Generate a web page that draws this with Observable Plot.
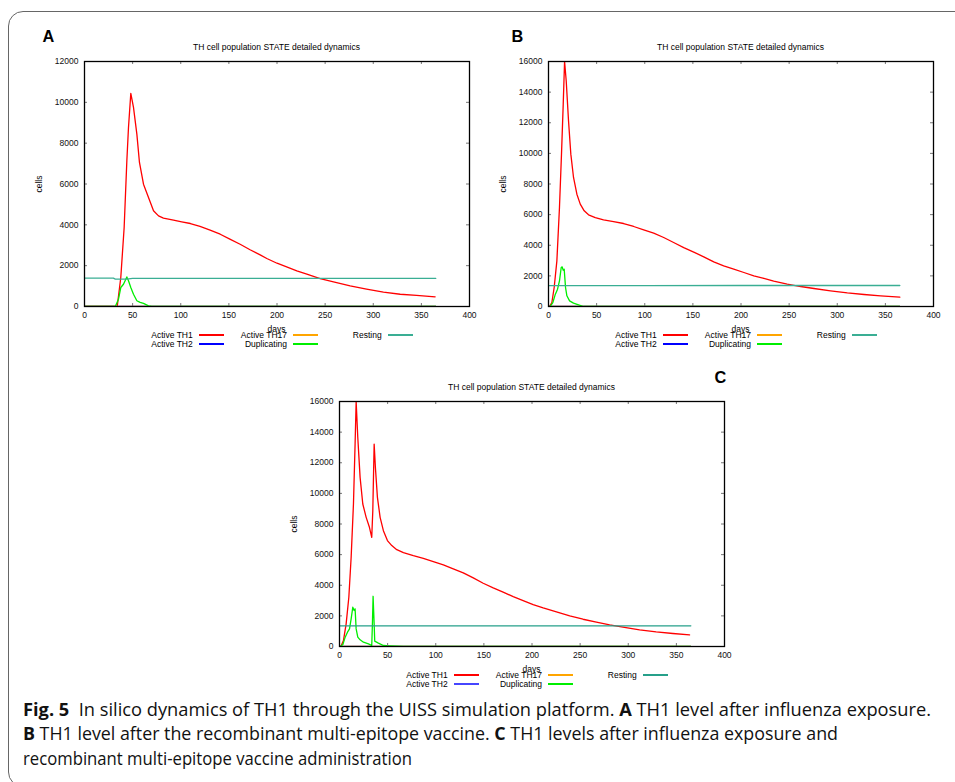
<!DOCTYPE html>
<html><head><meta charset="utf-8">
<script src="https://cdn.jsdelivr.net/npm/d3@7"></script>
<script src="https://cdn.jsdelivr.net/npm/@observablehq/plot@0.6"></script>
<style>
body{margin:0;background:#fff;}
#fig{position:relative;width:955px;height:782px;overflow:hidden;background:#fff;font-family:"Liberation Sans",Arial,sans-serif;color:#000}
.abs{position:absolute;white-space:nowrap;line-height:1}
.t8{font-size:8.5px}
.lg{position:absolute;height:2px}
#border{position:absolute;left:8px;top:11px;width:1000px;height:776px;border:1px solid #666;border-radius:15px;box-sizing:border-box}
.cap{position:absolute;left:23px;white-space:nowrap;line-height:1;font-family:"Open Sans","Noto Sans",sans-serif;font-size:17.5px;color:#111;transform-origin:0 0}
</style></head><body><div id="fig"><div id="border"></div></div><script>
// ---------- data ----------
const xTicks = [0, 50, 100, 150, 200, 250, 300, 350, 400];
const yTicksA = [0, 2000, 4000, 6000, 8000, 10000, 12000];
const yTicksBC = [0, 2000, 4000, 6000, 8000, 10000, 12000, 14000, 16000];
const seriesNames = ["Active TH1", "Active TH2", "Active TH17", "Duplicating", "Resting"];
const seriesColors = ["#ff0000", "#0000ff", "#ffa500", "#00ee00", "#3aae94"];
const titleText = "TH cell population STATE detailed dynamics";
const xLabel = "days", yLabel = "cells";

// Panel A (influenza exposure)
const A_TH1 = [[0,0],[34,0],[37.7,1420],[41.2,3870],[44,7140],[45.7,8770],[48.1,10435],[50.9,9750],[54.4,8440],[57.1,7055],[61.3,5990],[66.5,5340],[71.7,4690],[76.9,4440],[82,4330],[92.5,4230],[101,4150],[110,4065],[120,3920],[130.5,3740],[141,3540],[151,3300],[161.7,3050],[172,2780],[182.5,2530],[189.4,2350],[200,2120],[210,1945],[220.6,1750],[231,1585],[244.8,1370],[258.7,1210],[276,1010],[293,850],[310.6,700],[328,600],[345,540],[364.3,475]];
const A_TH2 = [[0,0],[365,0]];
const A_TH17 = [[0,0],[365,0]];
const A_Dup = [[0,0],[32,0],[35.3,360],[37.7,930],[40.5,1090],[42.2,1260],[44,1450],[45.7,1260],[48.1,930],[50.9,600],[54.4,280],[57.8,200],[61.3,150],[66.5,30],[70,0],[365,0]];
const A_Rest = [[0,1390],[30,1390],[32,1345],[44,1345],[50,1375],[100,1378],[200,1380],[365,1380]];

// Panel B (multi-epitope vaccine)
const B_TH1 = [[0,0],[1,0],[3.5,260],[5.9,1240],[8.7,2980],[11.4,6465],[13.5,9950],[15.3,13215],[16.7,16000],[18.4,14740],[20.8,12125],[23.2,9950],[26,8425],[29.5,7335],[33,6685],[37.1,6250],[41.6,5990],[48.6,5810],[57.2,5660],[67.6,5550],[78,5420],[88.5,5225],[98.9,5005],[109.3,4790],[119.7,4505],[130,4180],[140.5,3850],[150.9,3550],[161.3,3245],[171.7,2915],[182,2655],[192.5,2440],[203,2220],[213.3,2000],[223.8,1830],[234,1655],[248,1460],[262,1305],[275.8,1175],[293,1025],[310.5,890],[327.8,785],[345,700],[365,610]];
const B_TH2 = [[0,0],[365,0]];
const B_TH17 = [[0,0],[365,0]];
const B_Dup = [[0,0],[1.7,0],[4.5,260],[6.9,760],[9.4,1130],[11.4,1675],[13.2,2545],[14.2,2590],[15.3,2370],[16.3,2440],[17.7,1240],[19.1,700],[21.9,370],[26,220],[31.2,110],[36.4,0],[365,0]];
const B_Rest = [[0,1360],[100,1365],[200,1370],[365,1370]];

// Panel C (influenza exposure + vaccine)
const C_TH1 = [[0,0],[1.4,0],[4.1,390],[6.9,1480],[9.7,3220],[12.1,5825],[14.5,9305],[16.2,13220],[17.3,16000],[19,13650],[21.4,11045],[24.2,9305],[27.7,8435],[31.1,7785],[33.5,7130],[34.6,8870],[36,13220],[37.3,11695],[39.4,9740],[42.2,8435],[45.6,7565],[49.8,6915],[54.3,6590],[59.5,6325],[66.4,6130],[76.7,5935],[87.1,5760],[97.5,5545],[107.9,5325],[118.2,5065],[128.6,4805],[139,4480],[149.3,4130],[159.7,3825],[170,3545],[180.5,3260],[190.8,3000],[201.2,2740],[211.6,2520],[225.4,2260],[239.2,2000],[253,1780],[266.9,1585],[280.7,1410],[294.5,1260],[311.8,1085],[329,955],[346.4,850],[363.7,760]];
const C_TH2 = [[0,0],[365,0]];
const C_TH17 = [[0,0],[365,0]];
const C_Dup = [[0,0],[0.7,0],[3.5,130],[5.9,610],[8.3,935],[10.4,1150],[12.1,1805],[13.8,2565],[15.2,2350],[16.2,2455],[17.3,1150],[19,610],[21.4,435],[24.9,280],[30.1,175],[33.5,65],[34.2,1480],[34.9,3280],[36,1480],[36.6,350],[40.4,220],[45.6,65],[52.5,45],[66.4,0],[365,0]];
const C_Rest = [[0,1350],[365,1350]];

// ---------- layout ----------
const fig = document.getElementById("fig");
const IW = 385, IH = 245, ML = 54, MT = 11, MR = 20, MB = 20;

function addText(txt, x, y, cls, extra) {
  const d = document.createElement("div");
  d.className = "abs " + (cls || "");
  d.textContent = txt;
  d.style.left = x + "px"; d.style.top = y + "px";
  if (extra) Object.assign(d.style, extra);
  fig.appendChild(d);
  return d;
}

function panel(p) {
  const PL = p.left, PT = p.top, PB = PT + IH, CX = PL + IW / 2, CY = PT + IH / 2;
  const marks = p.series.map((data, i) => Plot.line(data, {x: d => d[0], y: d => d[1], stroke: p.colors[i], strokeWidth: 1.3, clip: true}));
  const svg = Plot.plot({
    width: ML + IW + MR, height: MT + IH + MB,
    marginLeft: ML, marginTop: MT, marginRight: MR, marginBottom: MB,
    x: {domain: [0, 400]}, y: {domain: [0, p.yMax]},
    style: {fontFamily: '"Liberation Sans", Arial, sans-serif', fontSize: "8.5px", background: "transparent", color: "#111", overflow: "visible"},
    marks: [
      ...marks,
      Plot.tickX(xTicks, {x: d => d, insetTop: IH - 3, stroke: "#777"}),
      Plot.tickX(xTicks, {x: d => d, insetBottom: IH - 3, stroke: "#777"}),
      Plot.tickY(p.yTicks, {y: d => d, insetRight: IW - 3, stroke: "#777"}),
      Plot.tickY(p.yTicks, {y: d => d, insetLeft: IW - 3, stroke: "#777"}),
      Plot.axisX(xTicks, {tickSize: 0, tickPadding: 5.5, label: null, tickFormat: d => String(d)}),
      Plot.axisY(p.yTicks, {tickSize: 0, tickPadding: 6, label: null, tickFormat: d => String(d)}),
      Plot.frame({stroke: "#000", strokeWidth: 1.3})
    ]
  });
  svg.style.position = "absolute";
  svg.style.left = (PL - ML) + "px";
  svg.style.top = (PT - MT) + "px";
  fig.appendChild(svg);

  addText(titleText, CX, PT - 14, "t8", {transform: "translate(-50%,-50%)"});
  addText(xLabel, CX, PB + 22.5, "t8", {transform: "translate(-50%,-50%)"});
  addText(yLabel, PL - 45.3, CY, "t8", {transform: "translate(-50%,-50%) rotate(-90deg)"});
  addText(p.letter, p.letterX, p.letterY, "", {fontSize: "16.3px", fontWeight: "bold"});

  // legend (column-major, 2 rows)
  const cols = [108.7, 203, 297.7];
  const rows = [PB + 29, PB + 37.5];
  p.names.forEach((nm, i) => {
    const c = Math.floor(i / 2), r = i % 2;
    const right = PL + cols[c];
    addText(nm, right - 200, rows[r], "t8", {width: "200px", textAlign: "right", transform: "translateY(-50%)"});
    const ln = document.createElement("div");
    ln.className = "lg";
    ln.style.left = Math.round(right + 6) + "px";
    ln.style.width = "25px";
    ln.style.top = Math.round(rows[r] - 1) + "px";
    ln.style.background = p.colors[i];
    fig.appendChild(ln);
  });
}

panel({left: 84, top: 61, yMax: 12000, yTicks: yTicksA, series: [A_TH1, A_TH2, A_TH17, A_Dup, A_Rest], colors: seriesColors, names: seriesNames, letter: "A", letterX: 42.5, letterY: 28});
panel({left: 548, top: 61, yMax: 16000, yTicks: yTicksBC, series: [B_TH1, B_TH2, B_TH17, B_Dup, B_Rest], colors: seriesColors, names: seriesNames, letter: "B", letterX: 511.5, letterY: 28});
panel({left: 339, top: 401, yMax: 16000, yTicks: yTicksBC, series: [C_TH1, C_TH2, C_TH17, C_Dup, C_Rest], colors: ["#ff0000", "#4646ff", "#ffa500", "#00ee00", "#26a08a"], names: seriesNames, letter: "C", letterX: 714.5, letterY: 368.5});

// ---------- caption ----------
const captionLines = [
  {html: '<b>Fig. 5</b>&nbsp; In silico dynamics of TH1 through the UISS simulation platform. <b>A</b> TH1 level after influenza exposure.', top: 701.2, width: 908},
  {html: '<b>B</b> TH1 level after the recombinant multi-epitope vaccine. <b>C</b> TH1 levels after influenza exposure and', top: 725.2, width: 815},
  {html: 'recombinant multi-epitope vaccine administration', top: 749.5, width: 389}
];
captionLines.forEach(l => {
  const d = document.createElement("div");
  d.className = "cap";
  d.innerHTML = l.html;
  d.style.top = l.top + "px";
  fig.appendChild(d);
  const w = d.getBoundingClientRect().width;
  d.style.transform = "scaleX(" + (l.width / w) + ")";
});
</script></body></html>
